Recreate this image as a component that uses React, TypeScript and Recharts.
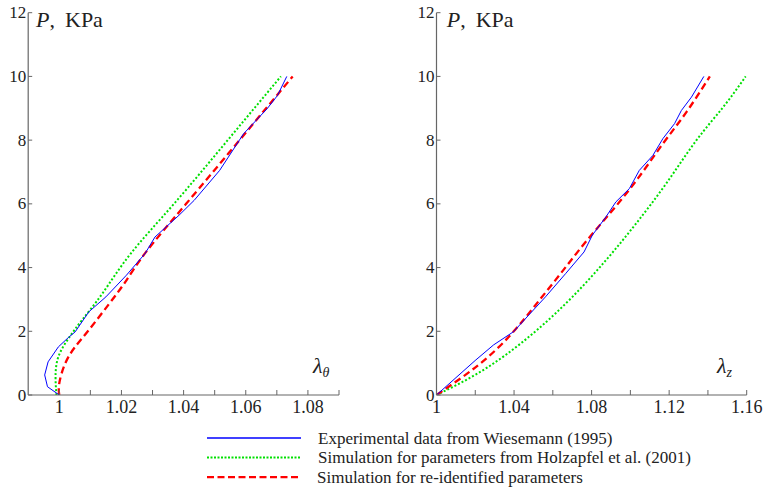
import { Line, LineChart, XAxis, YAxis } from 'recharts';

const SERIF = '"Liberation Serif", "Times New Roman", serif';
const AXIS = '#666';
const serif = { fontFamily: SERIF };

// tick positions and labelled values
const pTicks = [0, 2, 4, 6, 8, 10, 12];
const thetaTicks = [1, 1.01, 1.02, 1.03, 1.04, 1.05, 1.06, 1.07, 1.08, 1.09];
const thetaLabels = [1, 1.02, 1.04, 1.06, 1.08];
const zTicks = [1, 1.02, 1.04, 1.06, 1.08, 1.1, 1.12, 1.14, 1.16];
const zLabels = [1, 1.04, 1.08, 1.12, 1.16];

// circumferential stretch lambda_theta vs pressure P (KPa)
const thetaExperiment = [
  { l: 1.0, p: 0 },
  { l: 0.9962, p: 0.26 },
  { l: 0.9953, p: 0.63 },
  { l: 0.9964, p: 1.04 },
  { l: 0.9997, p: 1.51 },
  { l: 1.003, p: 1.81 },
  { l: 1.0051, p: 1.98 },
  { l: 1.0095, p: 2.61 },
  { l: 1.015, p: 3.08 },
  { l: 1.0216, p: 3.76 },
  { l: 1.0276, p: 4.44 },
  { l: 1.0308, p: 4.96 },
  { l: 1.0385, p: 5.64 },
  { l: 1.0434, p: 6.11 },
  { l: 1.0516, p: 7.05 },
  { l: 1.0593, p: 8.2 },
  { l: 1.0669, p: 8.99 },
  { l: 1.0702, p: 9.4 },
  { l: 1.0732, p: 10 },
];
const thetaHolzapfel = [
  { l: 0.9991, p: 0 },
  { l: 0.9988, p: 0.57 },
  { l: 0.9997, p: 1.2 },
  { l: 1.003, p: 1.78 },
  { l: 1.0073, p: 2.35 },
  { l: 1.0139, p: 3.19 },
  { l: 1.023, p: 4.44 },
  { l: 1.0369, p: 6 },
  { l: 1.0542, p: 8 },
  { l: 1.0713, p: 10 },
];
const thetaReidentified = [
  { l: 1.0, p: 0 },
  { l: 1.0, p: 0.37 },
  { l: 1.0019, p: 0.99 },
  { l: 1.0051, p: 1.51 },
  { l: 1.0095, p: 2.04 },
  { l: 1.0161, p: 2.87 },
  { l: 1.0216, p: 3.6 },
  { l: 1.028, p: 4.5 },
  { l: 1.0408, p: 6 },
  { l: 1.058, p: 8 },
  { l: 1.0751, p: 10 },
];

// axial stretch lambda_z vs pressure P (KPa)
const zExperiment = [
  { l: 1.0, p: 0 },
  { l: 1.0199, p: 1.08 },
  { l: 1.0294, p: 1.57 },
  { l: 1.0398, p: 1.99 },
  { l: 1.0476, p: 2.51 },
  { l: 1.0562, p: 3.08 },
  { l: 1.0666, p: 3.81 },
  { l: 1.0761, p: 4.49 },
  { l: 1.0804, p: 5.02 },
  { l: 1.0874, p: 5.59 },
  { l: 1.0925, p: 6.06 },
  { l: 1.0995, p: 6.48 },
  { l: 1.1046, p: 7.05 },
  { l: 1.1116, p: 7.52 },
  { l: 1.1168, p: 8.05 },
  { l: 1.1228, p: 8.52 },
  { l: 1.1263, p: 8.93 },
  { l: 1.1315, p: 9.35 },
  { l: 1.1379, p: 10 },
];
const zHolzapfel = [
  { l: 1.0, p: 0 },
  { l: 1.0182, p: 0.57 },
  { l: 1.0355, p: 1.25 },
  { l: 1.0528, p: 2.09 },
  { l: 1.0701, p: 3.08 },
  { l: 1.0874, p: 4.23 },
  { l: 1.1029, p: 5.38 },
  { l: 1.1185, p: 6.64 },
  { l: 1.134, p: 7.99 },
  { l: 1.1479, p: 9.04 },
  { l: 1.1595, p: 10 },
];
const zReidentified = [
  { l: 1.0, p: 0 },
  { l: 1.0216, p: 0.94 },
  { l: 1.0381, p: 1.88 },
  { l: 1.051, p: 2.82 },
  { l: 1.064, p: 3.81 },
  { l: 1.077, p: 4.81 },
  { l: 1.0908, p: 5.8 },
  { l: 1.1038, p: 6.79 },
  { l: 1.1168, p: 7.89 },
  { l: 1.1289, p: 8.88 },
  { l: 1.141, p: 10 },
];

const legendItems = [
  { name: 'Experimental data from Wiesemann (1995)', stroke: '#0000ff', width: 1.3, dash: undefined },
  { name: 'Simulation for parameters from Holzapfel et al. (2001)', stroke: '#00e000', width: 2, dash: '2 1.5' },
  { name: 'Simulation for re-identified parameters', stroke: '#ff0000', width: 2.3, dash: '7 3.5' },
];

const fmt = (v: number) => (v === 1 ? '1' : v.toFixed(2));

function XTick(props: any) {
  const { x, y, payload, labels } = props;
  const v = payload.value as number;
  const show = labels.some((l: number) => Math.abs(l - v) < 1e-6);
  return (
    <g>
      <line x1={x} y1={y} x2={x} y2={y - 5} stroke={AXIS} />
      {show && (
        <text x={x} y={y + 18} textAnchor="middle" style={{ ...serif, fontSize: 18 }} fill="#222">
          {fmt(v)}
        </text>
      )}
    </g>
  );
}

function YTick(props: any) {
  const { x, y, payload } = props;
  return (
    <g>
      <line x1={x} y1={y} x2={x + 4} y2={y} stroke={AXIS} />
      <text x={x - 2} y={y + 5.5} textAnchor="end" style={{ ...serif, fontSize: 17 }} fill="#222">
        {payload.value}
      </text>
    </g>
  );
}

interface PanelProps {
  width: number;
  marginRight: number;
  yWidth: number;
  domain: [number, number];
  ticks: number[];
  labels: number[];
  experiment: { l: number; p: number }[];
  holzapfel: { l: number; p: number }[];
  reidentified: { l: number; p: number }[];
}

function Panel({ width, marginRight, yWidth, domain, ticks, labels, experiment, holzapfel, reidentified }: PanelProps) {
  return (
    <LineChart width={width} height={420} margin={{ top: 12.7, right: marginRight, bottom: 0, left: 0 }}>
      <XAxis
        type="number"
        dataKey="l"
        domain={domain}
        ticks={ticks}
        interval={0}
        allowDataOverflow
        height={25}
        tickSize={0}
        tickMargin={0}
        tickLine={false}
        axisLine={{ stroke: AXIS, strokeWidth: 1.2 }}
        tick={(p: any) => <XTick {...p} labels={labels} />}
      />
      <YAxis
        type="number"
        dataKey="p"
        domain={[0, 12]}
        ticks={pTicks}
        interval={0}
        allowDataOverflow
        width={yWidth}
        tickSize={0}
        tickMargin={0}
        tickLine={false}
        axisLine={{ stroke: AXIS, strokeWidth: 1.2 }}
        tick={(p: any) => <YTick {...p} />}
      />
      <Line
        data={holzapfel}
        dataKey="p"
        type="natural"
        stroke="#00e000"
        strokeWidth={2}
        strokeDasharray="2 2"
        dot={false}
        activeDot={false}
        isAnimationActive={false}
      />
      <Line
        data={reidentified}
        dataKey="p"
        type="natural"
        stroke="#ff0000"
        strokeWidth={2.3}
        strokeDasharray="7 4"
        dot={false}
        activeDot={false}
        isAnimationActive={false}
      />
      <Line
        data={experiment}
        dataKey="p"
        type="linear"
        stroke="#0000ff"
        strokeWidth={1}
        dot={false}
        activeDot={false}
        isAnimationActive={false}
      />
    </LineChart>
  );
}

export default function App() {
  return (
    <div style={{ position: 'relative', width: 768, height: 493, background: '#fff', overflow: 'hidden' }}>
      <style>{'body { margin: 0; }'}</style>
      <div style={{ position: 'absolute', left: 0, top: 0 }}>
        <Panel
          width={350}
          marginRight={11}
          yWidth={28.2}
          domain={[0.99, 1.09]}
          ticks={thetaTicks}
          labels={thetaLabels}
          experiment={thetaExperiment}
          holzapfel={thetaHolzapfel}
          reidentified={thetaReidentified}
        />
      </div>
      <div style={{ position: 'absolute', left: 408, top: 0 }}>
        <Panel
          width={360}
          marginRight={21.3}
          yWidth={28.5}
          domain={[1, 1.16]}
          ticks={zTicks}
          labels={zLabels}
          experiment={zExperiment}
          holzapfel={zHolzapfel}
          reidentified={zReidentified}
        />
      </div>
      <svg width={768} height={493} style={{ position: 'absolute', left: 0, top: 0, pointerEvents: 'none' }}>
        {[36, 446.7].map((x) => (
          <text key={x} x={x} y={27} style={{ ...serif, fontSize: 22 }} fill="#222">
            <tspan fontStyle="italic">P</tspan>
            <tspan>,</tspan>
            <tspan x={x + 29}>KPa</tspan>
          </text>
        ))}
        <text x={313} y={373} style={{ ...serif, fontSize: 22, fontStyle: 'italic' }} fill="#222">
          λ<tspan fontSize={14} dy={4}>θ</tspan>
        </text>
        <text x={717} y={373} style={{ ...serif, fontSize: 22, fontStyle: 'italic' }} fill="#222">
          λ<tspan fontSize={14} dy={4}>z</tspan>
        </text>
        {legendItems.map((item, i) => {
          const cy = 438 + i * 19.6;
          return (
            <g key={item.name}>
              <line
                x1={207}
                x2={301}
                y1={cy}
                y2={cy}
                stroke={item.stroke}
                strokeWidth={item.width}
                strokeDasharray={item.dash}
              />
              <text x={i === 2 ? 317 : 318} y={cy + 5.5} style={{ ...serif, fontSize: 17 }} fill="#222">
                {item.name}
              </text>
            </g>
          );
        })}
      </svg>
    </div>
  );
}
